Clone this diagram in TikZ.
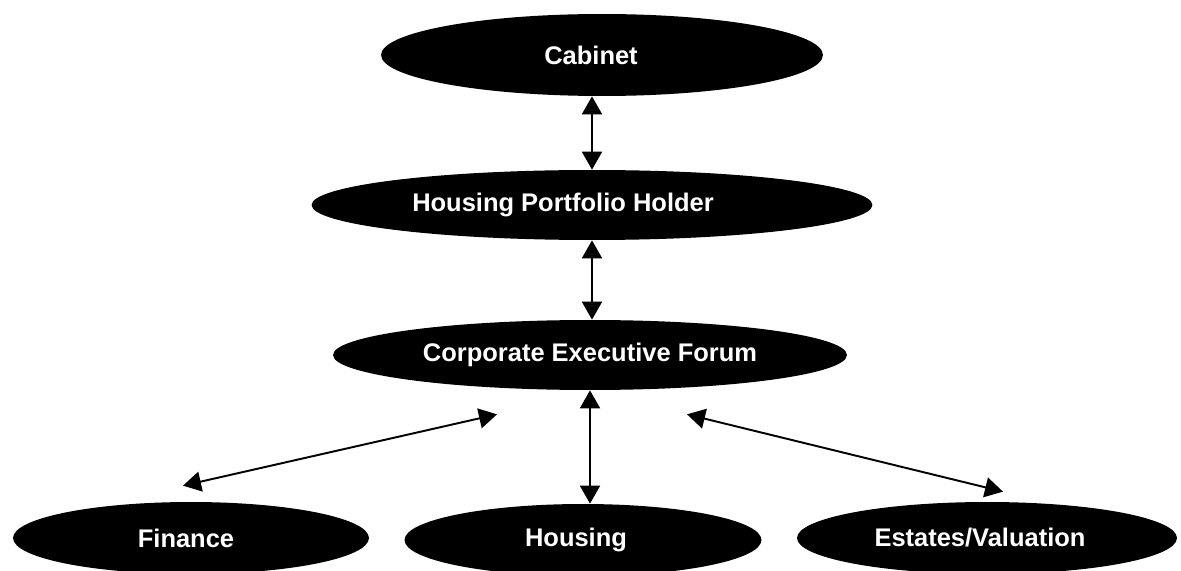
\documentclass[tikz,border=0pt]{standalone}
\usepackage{fontspec}
\setmainfont{Liberation Sans}
\usetikzlibrary{shapes.geometric,arrows.meta,calc}
\newcommand{\offleft}[2] {
  #2\hspace*{#1}}

\begin{document}
\begin{tikzpicture}[x=0.02cm,y=-0.02cm,
	blob/.style={ellipse,fill=black,text=white,inner sep=0pt,
		font=\bfseries\fontsize{14.5}{17}\selectfont},
	link/.style={{Triangle[length=0.36cm,width=0.4cm]}-{Triangle[length=0.36cm,width=0.4cm]},line width=1.1pt}]
					\useasboundingbox (0,0) rectangle (1181,571);
					%LEVELS
					\node[blob,minimum width=8.84cm,minimum height=1.64cm] (cab) at (602,55) {\offleft{0.44cm}{Cabinet}};
					\node[blob,minimum width=11.22cm,minimum height=1.4cm] (hph) at (592,205) {\offleft{1.16cm}{Housing Portfolio Holder}};
					\node[blob,minimum width=10.28cm,minimum height=1.4cm] (cef) at (590,355) {Corporate Executive Forum};
					%SERVICES
					\node[blob,minimum width=7.12cm,minimum height=1.44cm] (fin) at (191,538) {\offleft{0.2cm}{Finance}};
					\node[blob,minimum width=7.14cm,minimum height=1.44cm] (hou) at (583,540) {\offleft{0.28cm}{Housing}};
					\node[blob,minimum width=7.6cm,minimum height=1.44cm] (est) at (987,538) {\offleft{0.28cm}{Estates/Valuation}};
					%free ends of the side links
					\coordinate (cefL) at ($(cef.south)+(-93,24)$);
					\coordinate (cefR) at ($(cef.south)+(97,24)$);
					\coordinate (finT) at ($(fin.north)+(-8,-16)$);
					\coordinate (estT) at ($(est.north)+(16,-10)$);
					%LINKS
					\draw[link] (cab.south -| hph.north) -- (hph.north);
					\draw[link] (hph.south) -- (cef.north -| hph.south);
					\draw[link] (cef.south) -- (hou.north -| cef.south);
					\draw[link] (finT) -- (cefL);
					\draw[link] (cefR) -- (estT);
	  \end{tikzpicture}
\end{document}
